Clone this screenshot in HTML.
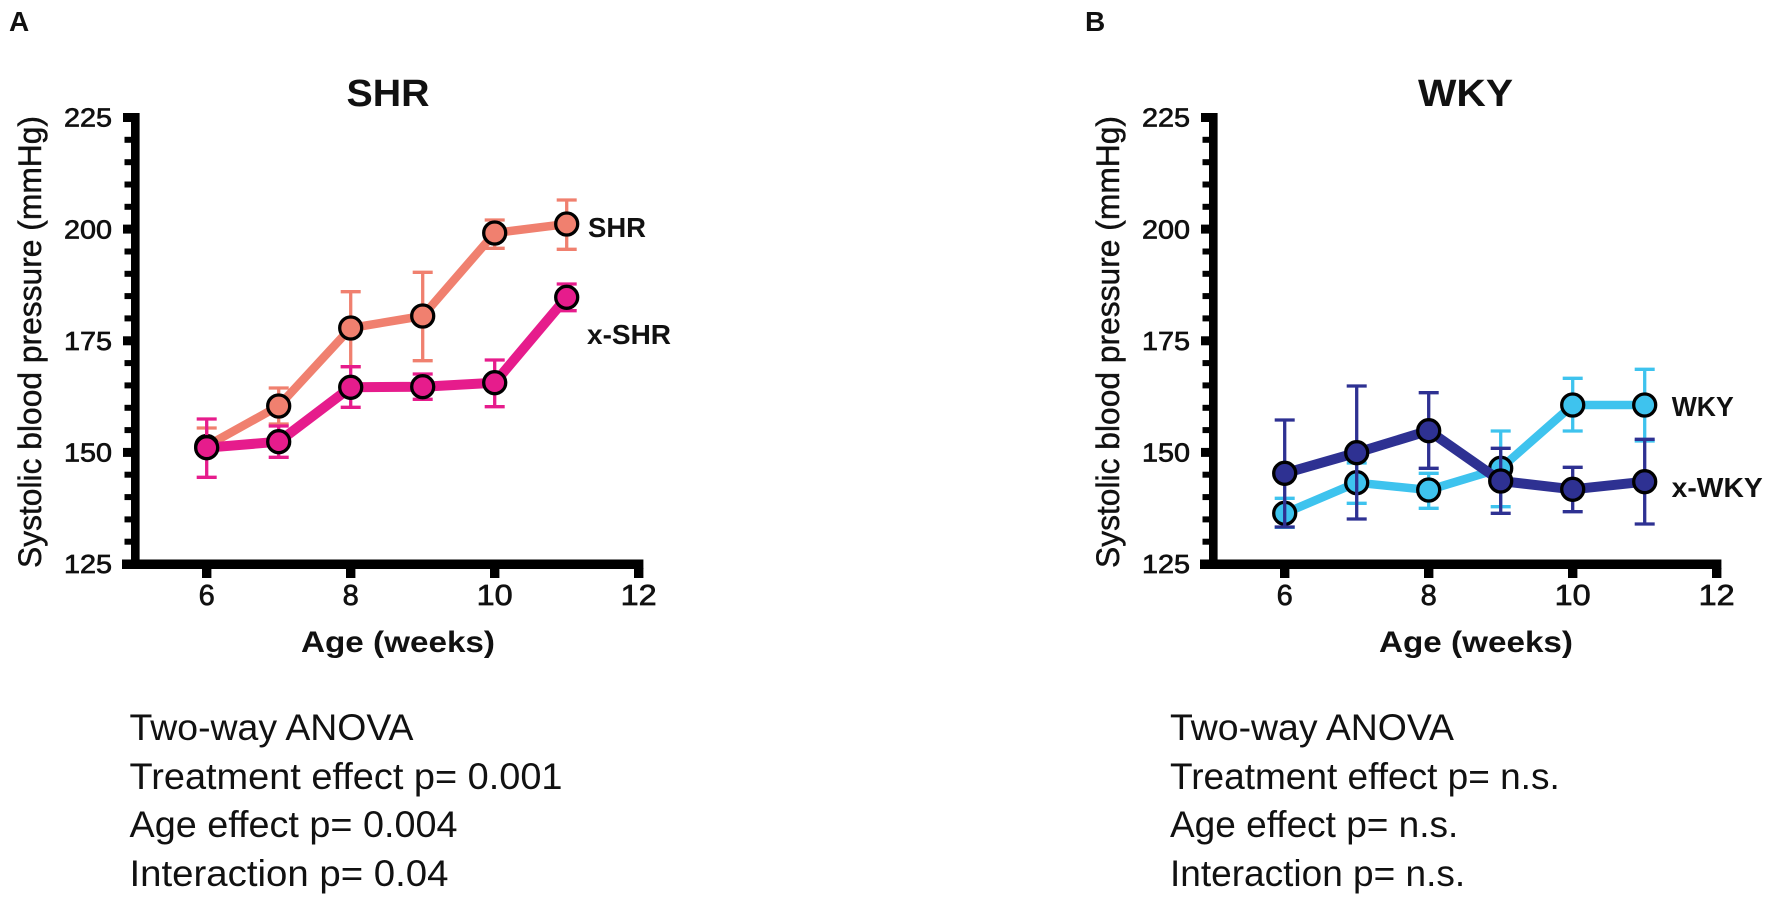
<!DOCTYPE html>
<html>
<head>
<meta charset="utf-8">
<style>
  html, body { margin: 0; padding: 0; background: #ffffff; }
  svg { display: block; }
  text { font-family: "Liberation Sans", "DejaVu Sans", sans-serif; fill: #111; }
  .b { font-weight: bold; }
  .tk { stroke: #111; stroke-width: 0.7; }
  .yl { stroke: #111; stroke-width: 0.45; }
</style>
</head>
<body>
<svg width="1772" height="898" viewBox="0 0 1772 898" xmlns="http://www.w3.org/2000/svg">
  <rect x="0" y="0" width="1772" height="898" fill="#ffffff"/>

  <!-- ================= PANEL A ================= -->
  <g>
    <text class="b" x="9" y="31" font-size="28">A</text>
    <text class="b" x="388" y="106" font-size="38" text-anchor="middle" textLength="83" lengthAdjust="spacingAndGlyphs">SHR</text>

    <g fill="#000">
      <rect x="131" y="113" width="8.6" height="456"/>
      <rect x="122" y="559.5" width="521.4" height="9.5"/>
      <rect x="123" y="113" width="9" height="9"/>
      <rect x="123" y="224.6" width="9" height="9"/>
      <rect x="123" y="336.3" width="9" height="9"/>
      <rect x="123" y="447.9" width="9" height="9"/>
      <rect x="124.5" y="136.8" width="7" height="6"/>
      <rect x="124.5" y="159.2" width="7" height="6"/>
      <rect x="124.5" y="181.5" width="7" height="6"/>
      <rect x="124.5" y="203.8" width="7" height="6"/>
      <rect x="124.5" y="248.5" width="7" height="6"/>
      <rect x="124.5" y="270.8" width="7" height="6"/>
      <rect x="124.5" y="293.1" width="7" height="6"/>
      <rect x="124.5" y="315.4" width="7" height="6"/>
      <rect x="124.5" y="360.1" width="7" height="6"/>
      <rect x="124.5" y="382.4" width="7" height="6"/>
      <rect x="124.5" y="404.8" width="7" height="6"/>
      <rect x="124.5" y="427.1" width="7" height="6"/>
      <rect x="124.5" y="471.7" width="7" height="6"/>
      <rect x="124.5" y="494.1" width="7" height="6"/>
      <rect x="124.5" y="516.4" width="7" height="6"/>
      <rect x="124.5" y="538.7" width="7" height="6"/>
      <rect x="202" y="568" width="9.4" height="10"/>
      <rect x="346" y="568" width="9.4" height="10"/>
      <rect x="490" y="568" width="9.4" height="10"/>
      <rect x="634" y="568" width="9.4" height="10"/>
    </g>

    <g font-size="26" text-anchor="end" class="tk">
      <text x="112" y="126.7" textLength="48" lengthAdjust="spacingAndGlyphs">225</text>
      <text x="112" y="238.3" textLength="48" lengthAdjust="spacingAndGlyphs">200</text>
      <text x="112" y="350" textLength="48" lengthAdjust="spacingAndGlyphs">175</text>
      <text x="112" y="461.6" textLength="48" lengthAdjust="spacingAndGlyphs">150</text>
      <text x="112" y="573.2" textLength="48" lengthAdjust="spacingAndGlyphs">125</text>
    </g>
    <g font-size="29" text-anchor="middle" class="tk">
      <text x="206.7" y="605">6</text>
      <text x="350.7" y="605">8</text>
      <text x="494.7" y="605" textLength="36" lengthAdjust="spacingAndGlyphs">10</text>
      <text x="638.7" y="605" textLength="36" lengthAdjust="spacingAndGlyphs">12</text>
    </g>
    <text class="b" x="398" y="652" font-size="30" text-anchor="middle" textLength="194" lengthAdjust="spacingAndGlyphs">Age (weeks)</text>
    <text class="yl" transform="translate(41,342) rotate(-90)" font-size="32" text-anchor="middle" textLength="452" lengthAdjust="spacingAndGlyphs">Systolic blood pressure (mmHg)</text>

    <!-- SHR series (salmon) -->
    <g stroke="#F0806F" stroke-width="3.3" fill="none">
      <path d="M206.7 428V452M196.7 428H216.7"/>
      <path d="M278.7 388V424M268.7 388H288.7M268.7 424H288.7"/>
      <path d="M350.7 291.7V366.7M340.7 291.7H360.7M340.7 366.7H360.7"/>
      <path d="M422.7 272.3V360.7M412.7 272.3H432.7M412.7 360.7H432.7"/>
      <path d="M494.7 220V248.3M484.7 220H504.7M484.7 248.3H504.7"/>
      <path d="M566.7 200V249.3M556.7 200H576.7M556.7 249.3H576.7"/>
    </g>
    <polyline points="206.7,446 278.7,406 350.7,328 422.7,316 494.7,233 566.7,224" fill="none" stroke="#F0806F" stroke-width="8.5" stroke-linejoin="round"/>
    <g fill="#F0806F" stroke="#000" stroke-width="3.3">
      <circle cx="206.7" cy="446.5" r="11"/>
      <circle cx="278.7" cy="406" r="11"/>
      <circle cx="350.7" cy="328" r="11"/>
      <circle cx="422.7" cy="316" r="11"/>
      <circle cx="494.7" cy="233" r="11"/>
      <circle cx="566.7" cy="224" r="11"/>
    </g>

    <!-- x-SHR series (magenta) -->
    <g stroke="#E61C8C" stroke-width="3.3" fill="none">
      <path d="M206.7 419V477.3M196.7 419H216.7M196.7 477.3H216.7"/>
      <path d="M278.7 426V457.3M268.7 426H288.7M268.7 457.3H288.7"/>
      <path d="M350.7 366.7V407.3M340.7 366.7H360.7M340.7 407.3H360.7"/>
      <path d="M422.7 374V399.3M412.7 374H432.7M412.7 399.3H432.7"/>
      <path d="M494.7 360V406.7M484.7 360H504.7M484.7 406.7H504.7"/>
      <path d="M566.7 284V310.7M556.7 284H576.7M556.7 310.7H576.7"/>
    </g>
    <polyline points="206.7,447.7 278.7,441.7 350.7,387.3 422.7,386.7 494.7,382.7 566.7,297.3" fill="none" stroke="#E61C8C" stroke-width="10" stroke-linejoin="round"/>
    <g fill="#E61C8C" stroke="#000" stroke-width="3.3">
      <circle cx="206.7" cy="447.7" r="11"/>
      <circle cx="278.7" cy="441.7" r="11"/>
      <circle cx="350.7" cy="387.3" r="11"/>
      <circle cx="422.7" cy="386.7" r="11"/>
      <circle cx="494.7" cy="382.7" r="11"/>
      <circle cx="566.7" cy="297.3" r="11"/>
    </g>

    <text class="b" x="588" y="237" font-size="28" textLength="58" lengthAdjust="spacingAndGlyphs">SHR</text>
    <text class="b" x="587" y="344" font-size="28">x-SHR</text>

    <g font-size="37">
      <text x="129.5" y="740" textLength="284" lengthAdjust="spacingAndGlyphs">Two-way ANOVA</text>
      <text x="129.5" y="789" textLength="433" lengthAdjust="spacingAndGlyphs">Treatment effect p= 0.001</text>
      <text x="129.5" y="837" textLength="328" lengthAdjust="spacingAndGlyphs">Age effect p= 0.004</text>
      <text x="129.5" y="886" textLength="319" lengthAdjust="spacingAndGlyphs">Interaction p= 0.04</text>
    </g>
  </g>

  <!-- ================= PANEL B ================= -->
  <g transform="translate(1078,0)">
    <text class="b" x="7" y="31" font-size="28">B</text>
    <text class="b" x="387.5" y="106" font-size="38" text-anchor="middle" textLength="95" lengthAdjust="spacingAndGlyphs">WKY</text>

    <g fill="#000">
      <rect x="131" y="113" width="8.6" height="456"/>
      <rect x="122" y="559.5" width="521.4" height="9.5"/>
      <rect x="123" y="113" width="9" height="9"/>
      <rect x="123" y="224.6" width="9" height="9"/>
      <rect x="123" y="336.3" width="9" height="9"/>
      <rect x="123" y="447.9" width="9" height="9"/>
      <rect x="124.5" y="136.8" width="7" height="6"/>
      <rect x="124.5" y="159.2" width="7" height="6"/>
      <rect x="124.5" y="181.5" width="7" height="6"/>
      <rect x="124.5" y="203.8" width="7" height="6"/>
      <rect x="124.5" y="248.5" width="7" height="6"/>
      <rect x="124.5" y="270.8" width="7" height="6"/>
      <rect x="124.5" y="293.1" width="7" height="6"/>
      <rect x="124.5" y="315.4" width="7" height="6"/>
      <rect x="124.5" y="360.1" width="7" height="6"/>
      <rect x="124.5" y="382.4" width="7" height="6"/>
      <rect x="124.5" y="404.8" width="7" height="6"/>
      <rect x="124.5" y="427.1" width="7" height="6"/>
      <rect x="124.5" y="471.7" width="7" height="6"/>
      <rect x="124.5" y="494.1" width="7" height="6"/>
      <rect x="124.5" y="516.4" width="7" height="6"/>
      <rect x="124.5" y="538.7" width="7" height="6"/>
      <rect x="202" y="568" width="9.4" height="10"/>
      <rect x="346" y="568" width="9.4" height="10"/>
      <rect x="490" y="568" width="9.4" height="10"/>
      <rect x="634" y="568" width="9.4" height="10"/>
    </g>

    <g font-size="26" text-anchor="end" class="tk">
      <text x="112" y="126.7" textLength="48" lengthAdjust="spacingAndGlyphs">225</text>
      <text x="112" y="238.3" textLength="48" lengthAdjust="spacingAndGlyphs">200</text>
      <text x="112" y="350" textLength="48" lengthAdjust="spacingAndGlyphs">175</text>
      <text x="112" y="461.6" textLength="48" lengthAdjust="spacingAndGlyphs">150</text>
      <text x="112" y="573.2" textLength="48" lengthAdjust="spacingAndGlyphs">125</text>
    </g>
    <g font-size="29" text-anchor="middle" class="tk">
      <text x="206.7" y="605">6</text>
      <text x="350.7" y="605">8</text>
      <text x="494.7" y="605" textLength="36" lengthAdjust="spacingAndGlyphs">10</text>
      <text x="638.7" y="605" textLength="36" lengthAdjust="spacingAndGlyphs">12</text>
    </g>
    <text class="b" x="398" y="652" font-size="30" text-anchor="middle" textLength="194" lengthAdjust="spacingAndGlyphs">Age (weeks)</text>
    <text class="yl" transform="translate(41,342) rotate(-90)" font-size="32" text-anchor="middle" textLength="452" lengthAdjust="spacingAndGlyphs">Systolic blood pressure (mmHg)</text>

    <!-- WKY series (light blue) -->
    <g stroke="#3EC3EE" stroke-width="3.3" fill="none">
      <path d="M206.7 498.3V527.3M196.7 498.3H216.7M196.7 527.3H216.7"/>
      <path d="M278.7 463V503.3M268.7 463H288.7M268.7 503.3H288.7"/>
      <path d="M350.7 473.3V508.3M340.7 473.3H360.7M340.7 508.3H360.7"/>
      <path d="M422.7 431V506.7M412.7 431H432.7M412.7 506.7H432.7"/>
      <path d="M494.7 378.3V431M484.7 378.3H504.7M484.7 431H504.7"/>
      <path d="M566.7 369.3V441M556.7 369.3H576.7M556.7 441H576.7"/>
    </g>
    <polyline points="206.7,513.3 278.7,482.7 350.7,490 422.7,468.3 494.7,405 566.7,405" fill="none" stroke="#3EC3EE" stroke-width="8.5" stroke-linejoin="round"/>
    <g fill="#3EC3EE" stroke="#000" stroke-width="3.3">
      <circle cx="206.7" cy="513.3" r="11"/>
      <circle cx="278.7" cy="482.7" r="11"/>
      <circle cx="350.7" cy="490" r="11"/>
      <circle cx="422.7" cy="468.3" r="11"/>
      <circle cx="494.7" cy="405" r="11"/>
      <circle cx="566.7" cy="405" r="11"/>
    </g>

    <!-- x-WKY series (navy) -->
    <g stroke="#2E3192" stroke-width="3.3" fill="none">
      <path d="M206.7 420V527M196.7 420H216.7M196.7 527H216.7"/>
      <path d="M278.7 386V519M268.7 386H288.7M268.7 519H288.7"/>
      <path d="M350.7 392.7V468.3M340.7 392.7H360.7M340.7 468.3H360.7"/>
      <path d="M422.7 448.3V513.3M412.7 448.3H432.7M412.7 513.3H432.7"/>
      <path d="M494.7 467.3V511.7M484.7 467.3H504.7M484.7 511.7H504.7"/>
      <path d="M566.7 439.3V524M556.7 439.3H576.7M556.7 524H576.7"/>
    </g>
    <polyline points="206.7,473.3 278.7,452.7 350.7,430.7 422.7,481 494.7,489.3 566.7,481.7" fill="none" stroke="#2E3192" stroke-width="10" stroke-linejoin="round"/>
    <g fill="#2E3192" stroke="#000" stroke-width="3.3">
      <circle cx="206.7" cy="473.3" r="11"/>
      <circle cx="278.7" cy="452.7" r="11"/>
      <circle cx="350.7" cy="430.7" r="11"/>
      <circle cx="422.7" cy="481" r="11"/>
      <circle cx="494.7" cy="489.3" r="11"/>
      <circle cx="566.7" cy="481.7" r="11"/>
    </g>

    <text class="b" x="593.7" y="416" font-size="28" textLength="62" lengthAdjust="spacingAndGlyphs">WKY</text>
    <text class="b" x="593.7" y="497" font-size="28" textLength="91" lengthAdjust="spacingAndGlyphs">x-WKY</text>

    <g font-size="37">
      <text x="92" y="740" textLength="284" lengthAdjust="spacingAndGlyphs">Two-way ANOVA</text>
      <text x="92" y="789">Treatment effect p= n.s.</text>
      <text x="92" y="837">Age effect p= n.s.</text>
      <text x="92" y="886">Interaction p= n.s.</text>
    </g>
  </g>
</svg>
</body>
</html>
